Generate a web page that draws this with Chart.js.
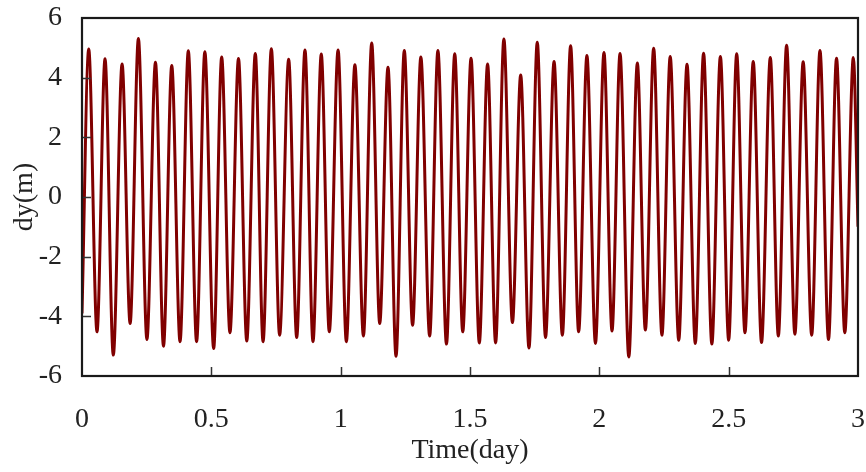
<!DOCTYPE html>
<html>
<head>
<meta charset="utf-8">
<script src="https://cdn.jsdelivr.net/npm/chart.js@4/dist/chart.umd.min.js"></script>
<style>
  html, body { margin: 0; padding: 0; background: #fff; }
  #wrap { width: 866px; height: 472px; }
</style>
</head>
<body>
<div id="wrap"><canvas id="dyChart" width="866" height="472"></canvas></div>
<script>
// extrema of the record (time in days, dy in m)
const timeDays = [
    0.000, 0.026, 0.058, 0.089, 0.121, 0.155, 0.186, 0.218, 0.251, 0.284,
    0.315, 0.347, 0.379, 0.411, 0.443, 0.475, 0.509, 0.540, 0.572, 0.605,
    0.637, 0.670, 0.700, 0.732, 0.764, 0.799, 0.830, 0.862, 0.893, 0.925,
    0.956, 0.990, 1.022, 1.055, 1.088, 1.120, 1.151, 1.183, 1.214, 1.246,
    1.278, 1.310, 1.344, 1.376, 1.409, 1.441, 1.472, 1.504, 1.536, 1.568,
    1.599, 1.631, 1.664, 1.696, 1.728, 1.760, 1.792, 1.825, 1.857, 1.889,
    1.920, 1.952, 1.985, 2.018, 2.049, 2.080, 2.114, 2.147, 2.178, 2.210,
    2.242, 2.274, 2.307, 2.339, 2.371, 2.403, 2.435, 2.468, 2.500, 2.531,
    2.563, 2.595, 2.627, 2.661, 2.692, 2.724, 2.756, 2.788, 2.821, 2.853,
    2.886, 2.917, 2.949, 2.982, 3.000
];
const dyValues = [
    -3.90, 4.96, -4.52, 4.63, -5.30, 4.46, -4.24, 5.31, -4.78, 4.52,
    -5.00, 4.41, -4.85, 4.90, -4.85, 4.87, -5.08, 4.69, -4.55, 4.64,
    -4.83, 4.81, -4.85, 4.97, -4.63, 4.62, -4.71, 4.93, -4.85, 4.79,
    -4.52, 4.93, -4.85, 4.43, -4.66, 5.16, -4.24, 4.35, -5.34, 4.91,
    -4.30, 4.69, -4.66, 4.91, -4.93, 4.80, -4.52, 4.65, -4.89, 4.46,
    -4.89, 5.30, -4.21, 4.09, -5.06, 5.19, -4.71, 4.54, -4.63, 5.07,
    -4.52, 4.74, -4.91, 4.84, -4.49, 4.81, -5.36, 4.49, -4.46, 4.99,
    -4.63, 4.71, -4.80, 4.45, -4.91, 4.82, -4.93, 4.71, -4.80, 4.80,
    -4.55, 4.54, -4.88, 4.68, -4.66, 5.09, -4.60, 4.53, -4.63, 4.91,
    -4.78, 4.65, -4.55, 4.68, -1.00
];
const xTicks = [0, 0.5, 1, 1.5, 2, 2.5, 3];
const yTicks = [-6, -4, -2, 0, 2, 4, 6];

const fontFamily = "'Liberation Serif', 'Times New Roman', serif";
const textColor = "#222";

// frame round the plot with short inward tick marks
const framePlugin = {
    id: "frameTicks",
    afterDraw: (chart) => {
        const { ctx, chartArea } = chart;
        const xs = chart.scales.x;
        const ys = chart.scales.y;
        ctx.save();
        ctx.strokeStyle = "#333";
        ctx.lineWidth = 1.5;
        ctx.beginPath();
        yTicks.slice(1, -1).forEach((v) => {
            const py = Math.round(ys.getPixelForValue(v)) + 0.5;
            ctx.moveTo(chartArea.left, py);
            ctx.lineTo(chartArea.left + 9, py);
        });
        xTicks.slice(1, -1).forEach((v) => {
            const px = Math.round(xs.getPixelForValue(v)) + 0.5;
            ctx.moveTo(px, chartArea.bottom);
            ctx.lineTo(px, chartArea.bottom - 9);
        });
        ctx.stroke();
        ctx.strokeStyle = "#1a1a1a";
        ctx.lineWidth = 2.2;
        ctx.strokeRect(chartArea.left, chartArea.top, chartArea.right - chartArea.left, chartArea.bottom - chartArea.top);
        ctx.restore();
    }
};

const points = timeDays.map((t, i) => ({ x: t, y: dyValues[i] }));

new Chart(document.getElementById("dyChart").getContext("2d"), {
    type: "scatter",
    data: {
        datasets: [{
            data: points,
            showLine: true,
            borderColor: "#800000",
            borderWidth: 3,
            pointRadius: 0,
            cubicInterpolationMode: "monotone",
            fill: false
        }]
    },
    options: {
        responsive: false,
        animation: false,
        devicePixelRatio: 1,
        layout: { padding: { top: 18, right: 8, left: 0, bottom: 0 } },
        plugins: {
            legend: { display: false },
            tooltip: { enabled: false }
        },
        scales: {
            x: {
                type: "linear",
                min: 0,
                max: 3,
                afterBuildTicks: (scale) => { scale.ticks = xTicks.map((v) => ({ value: v })); },
                afterFit: (scale) => {
                    scale.height = 96;
                    scale.paddingLeft = 0;
                    scale.paddingRight = 0;
                },
                grid: { display: false, drawTicks: false },
                border: { display: false },
                ticks: {
                    padding: 27,
                    maxRotation: 0,
                    color: textColor,
                    font: { family: fontFamily, size: 28 },
                    callback: (v) => String(v)
                },
                title: {
                    display: true,
                    text: "Time(day)",
                    color: textColor,
                    padding: { top: 0, bottom: 5 },
                    font: { family: fontFamily, size: 28 }
                }
            },
            y: {
                min: -6,
                max: 6,
                afterBuildTicks: (scale) => { scale.ticks = yTicks.map((v) => ({ value: v })); },
                afterFit: (scale) => {
                    scale.width = 82;
                    scale.paddingTop = 0;
                    scale.paddingBottom = 0;
                },
                grid: { display: false, drawTicks: false },
                border: { display: false },
                ticks: {
                    padding: 20,
                    color: textColor,
                    font: { family: fontFamily, size: 28 },
                    callback: (v) => String(v)
                },
                title: {
                    display: true,
                    text: "dy(m)",
                    color: textColor,
                    padding: { top: 8, bottom: 0 },
                    font: { family: fontFamily, size: 28 }
                }
            }
        }
    },
    plugins: [framePlugin]
});
</script>
</body>
</html>
